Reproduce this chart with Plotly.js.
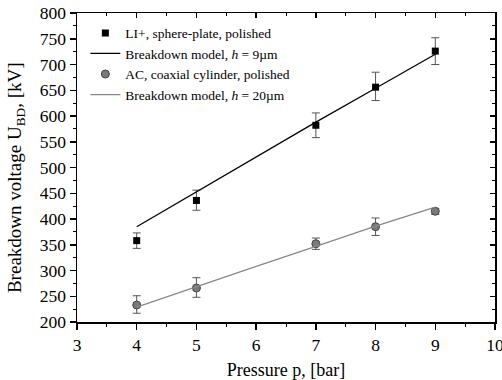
<!DOCTYPE html>
<html><head><meta charset="utf-8">
<script src="https://cdn.plot.ly/plotly-3.0.1.min.js"></script>
<style>body{margin:0;background:#fff}#c{width:502px;height:380px}</style>
</head><body><div id="c"></div>
<script>
var pressure = [4, 5, 7, 8, 9];
var liValues = [358, 436, 582, 656, 726];
var liErrPlus = [15, 20, 24, 29, 26];
var liErrMinus = [15, 19, 24, 26, 26];
var acValues = [233, 266, 352, 385, 415];
var acErrPlus = [18, 20, 11, 17, 5];
var acErrMinus = [16, 18, 11, 17, 6];
var modelP = [4, 5, 6, 7, 8, 9];
var model9 = [385, 453, 521, 588, 654, 720];
var model20 = [229, 269, 308, 347, 386, 423];
var xTitle = 'Pressure p, [bar]';
var yTitle = 'Breakdown voltage U<sub>BD</sub>, [kV]';
var font = '"Liberation Serif", "Times New Roman", serif';

var traces = [
  {x: pressure, y: liValues, type: 'scatter', mode: 'markers', name: 'LI+, sphere-plate, polished',
   marker: {symbol: 'square', size: 7, color: '#000'},
   error_y: {type: 'data', symmetric: false, array: liErrPlus, arrayminus: liErrMinus, color: '#555', thickness: 1, width: 4}},
  {x: modelP, y: model9, type: 'scatter', mode: 'lines', name: 'Breakdown model, <i>h</i> = 9µm',
   line: {color: '#000', width: 1.3}},
  {x: pressure, y: acValues, type: 'scatter', mode: 'markers', name: 'AC, coaxial cylinder, polished',
   marker: {symbol: 'circle', size: 8, color: '#7a7a7a', line: {color: '#444', width: 1}},
   error_y: {type: 'data', symmetric: false, array: acErrPlus, arrayminus: acErrMinus, color: '#555', thickness: 1, width: 4}},
  {x: modelP, y: model20, type: 'scatter', mode: 'lines', name: 'Breakdown model, <i>h</i> = 20µm',
   line: {color: '#888', width: 1.3}}
];

var layout = {
  width: 502, height: 380,
  margin: {l: 77, r: 7, t: 13, b: 58},
  paper_bgcolor: '#fff', plot_bgcolor: '#fff',
  font: {family: font, color: '#000', size: 17},
  showlegend: true,
  legend: {x: 0.02, y: 0.985, xanchor: 'left', yanchor: 'top', bgcolor: 'rgba(0,0,0,0)',
           font: {family: font, size: 13.5}, tracegroupgap: 0, itemwidth: 30},
  xaxis: {range: [3, 10], dtick: 1, showgrid: false, zeroline: false,
          showline: true, linecolor: '#000', linewidth: 1.5,
          ticks: 'outside', ticklen: 6, tickwidth: 1.5, tickcolor: '#000',
          minor: {dtick: 0.5, ticks: 'outside', ticklen: 3, tickwidth: 1, tickcolor: '#000'},
          tickfont: {family: font, size: 17.5}, ticklabeloverflow: 'allow',
          title: {text: xTitle, font: {family: font, size: 18}, standoff: 17}},
  yaxis: {range: [200, 800], dtick: 50, showgrid: false, zeroline: false,
          showline: true, linecolor: '#000', linewidth: 1.5,
          ticks: 'outside', ticklen: 6, tickwidth: 1.5, tickcolor: '#000',
          minor: {dtick: 25, ticks: 'outside', ticklen: 3, tickwidth: 1, tickcolor: '#000'},
          tickfont: {family: font, size: 17.5}, ticklabeloverflow: 'allow'},
  xaxis2: {overlaying: 'x', side: 'top', range: [3, 10], dtick: 1, showgrid: false, zeroline: false,
           showline: true, linecolor: '#000', linewidth: 1.5, showticklabels: false,
           ticks: 'inside', ticklen: 5, tickwidth: 1.5, tickcolor: '#000',
           minor: {dtick: 0.5, ticks: 'inside', ticklen: 3, tickwidth: 1, tickcolor: '#000'}},
  yaxis2: {overlaying: 'y', side: 'right', range: [200, 800], dtick: 50, showgrid: false, zeroline: false,
           showline: true, linecolor: '#000', linewidth: 1.5, showticklabels: false,
           ticks: 'inside', ticklen: 5, tickwidth: 1.5, tickcolor: '#000',
           minor: {dtick: 25, ticks: 'inside', ticklen: 3, tickwidth: 1, tickcolor: '#000'}},
  annotations: [{text: yTitle, textangle: -90, xref: 'paper', yref: 'paper',
                 x: -0.146, y: 0.469, xanchor: 'center', yanchor: 'middle', showarrow: false,
                 font: {family: font, size: 19, color: '#000'}}]
};
traces.push({x: [3], y: [200], xaxis: 'x2', yaxis: 'y2', type: 'scatter', mode: 'markers',
             marker: {opacity: 0}, showlegend: false, hoverinfo: 'skip'});
Plotly.newPlot('c', traces, layout, {staticPlot: true});
</script></body></html>
